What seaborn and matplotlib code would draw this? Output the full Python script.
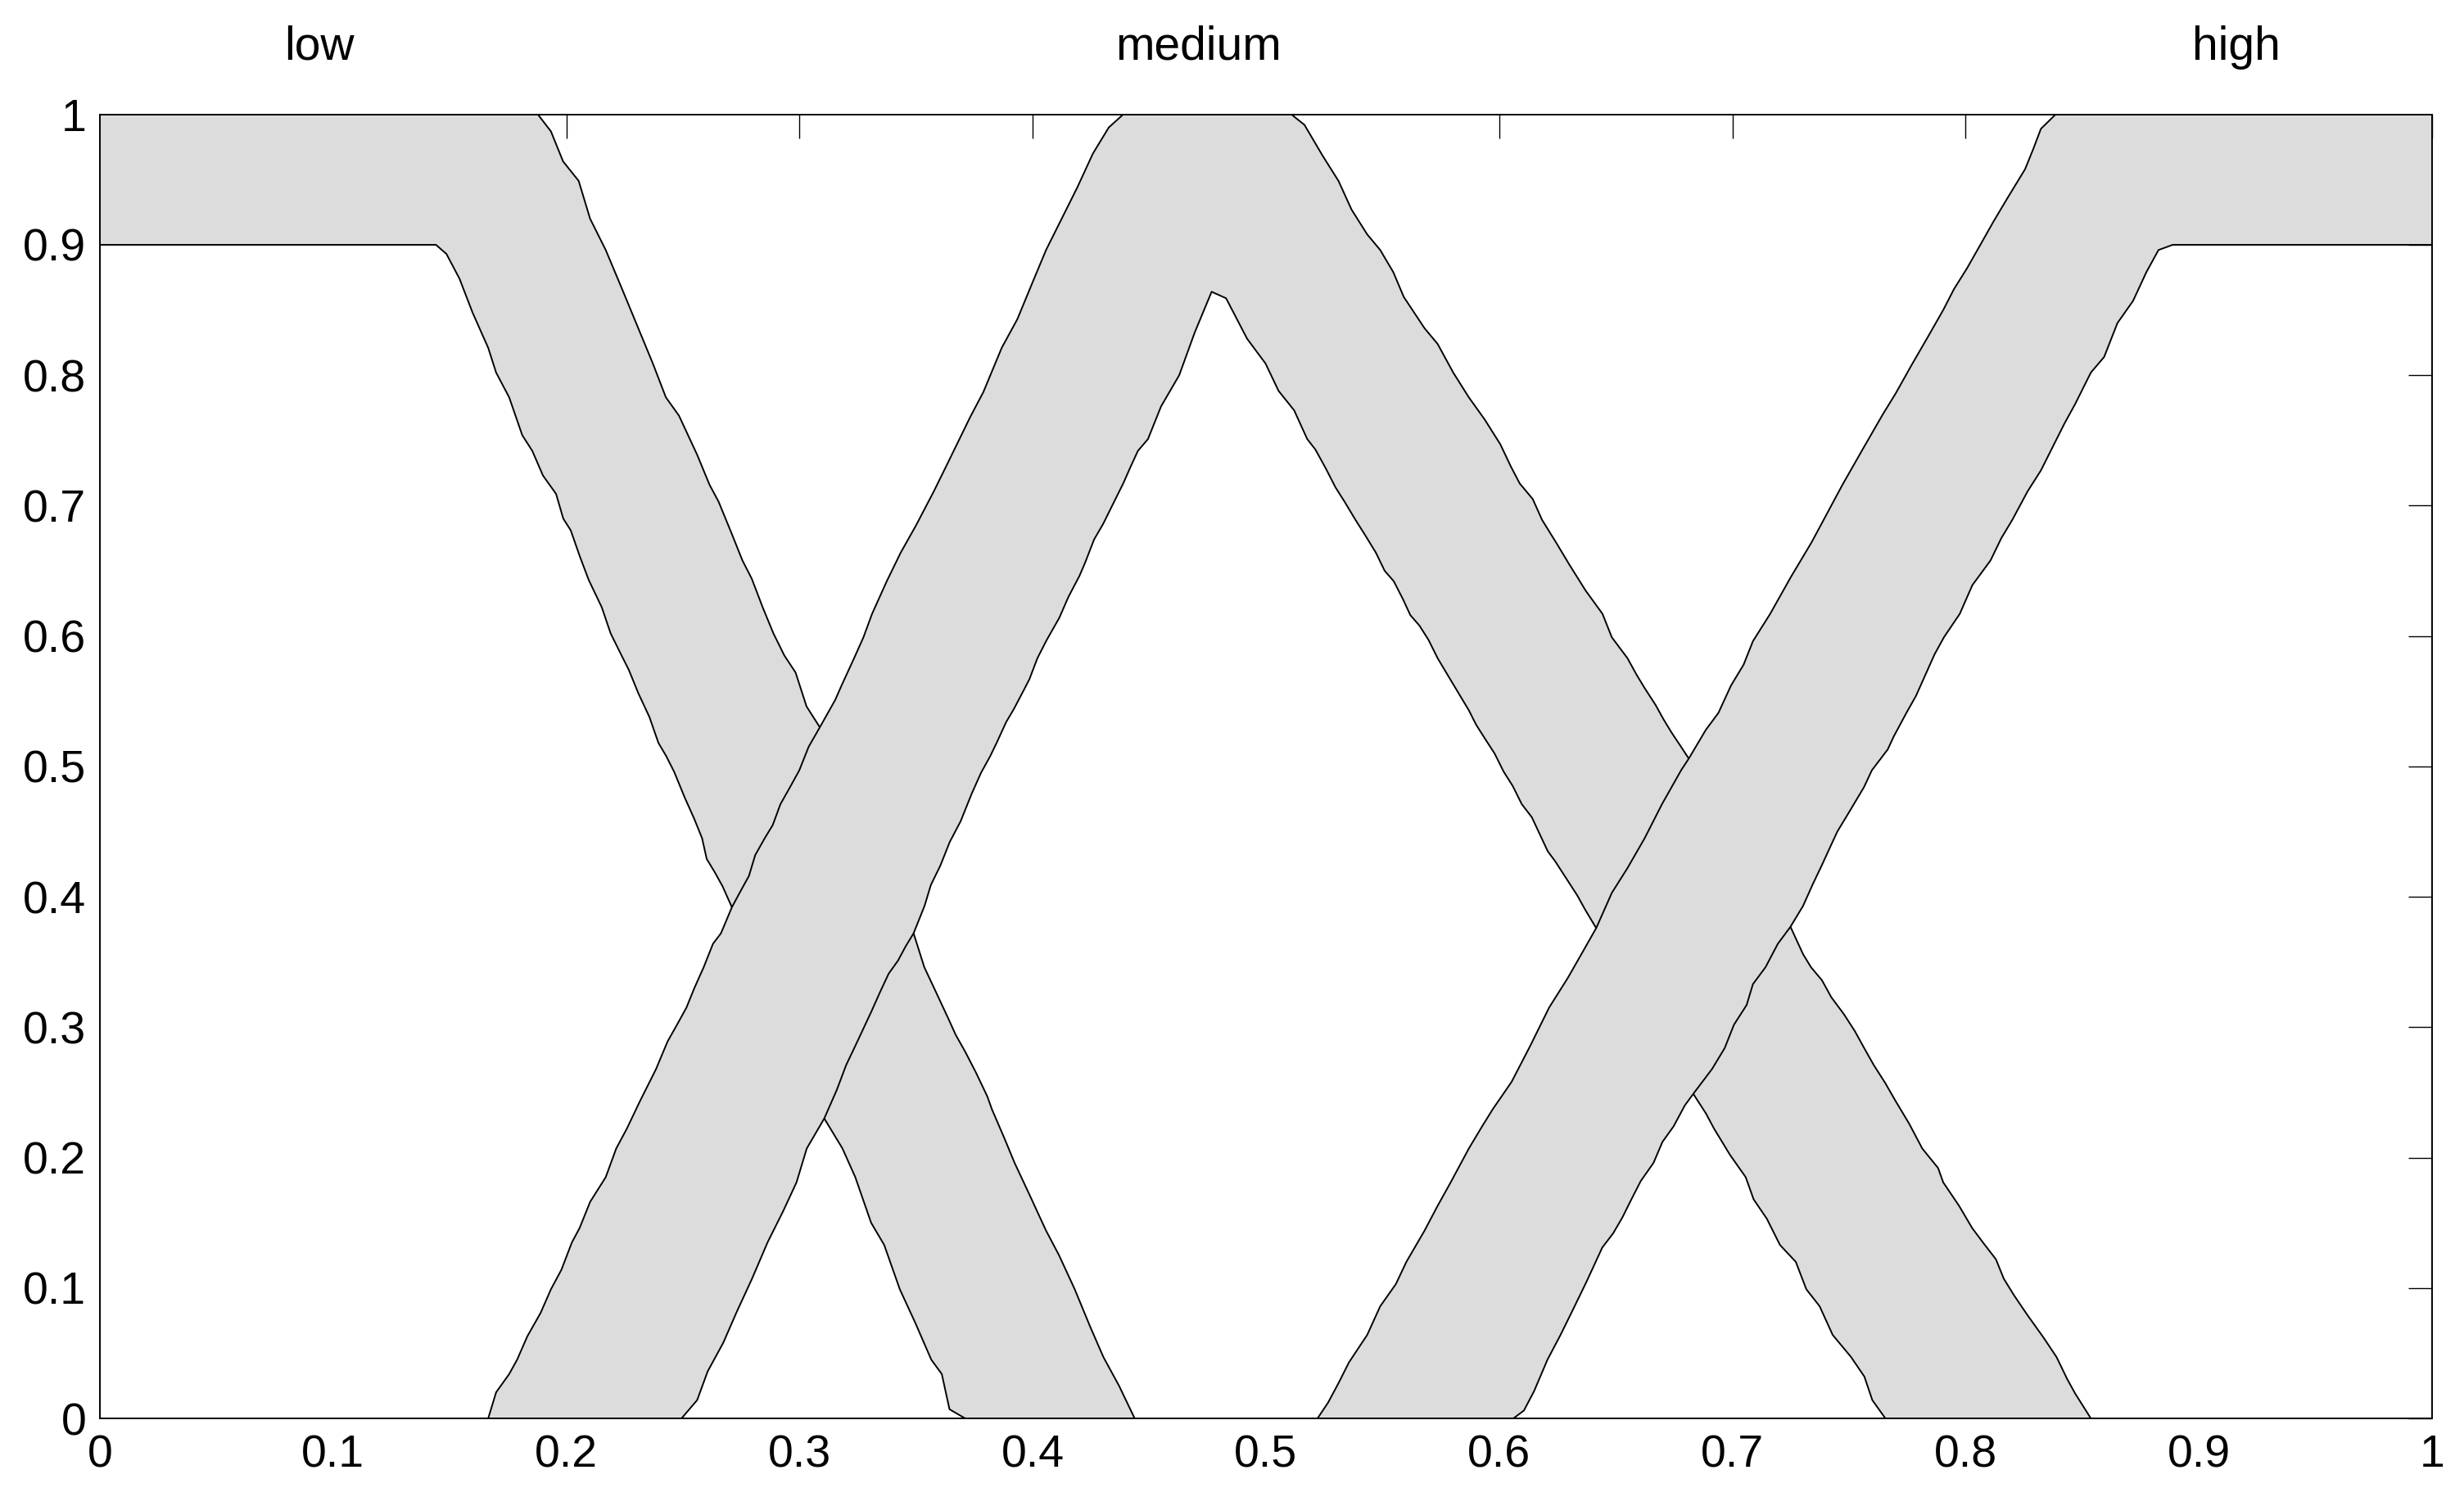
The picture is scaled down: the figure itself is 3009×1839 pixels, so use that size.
import pandas as pd
import matplotlib
matplotlib.use("Agg")
import matplotlib.pyplot as plt
import seaborn as sns

sns.set_theme(style="white")
plt.rcParams['font.family'] = ['Liberation Sans', 'DejaVu Sans']

# Labels of the three sets and where they sit (over the top of each set)
set_names = ['low', 'medium', 'high']
set_label_x = [0.094, 0.471, 0.916]

tick_values = [0, 0.1, 0.2, 0.3, 0.4, 0.5, 0.6, 0.7, 0.8, 0.9, 1]
tick_text = ['0', '0.1', '0.2', '0.3', '0.4', '0.5', '0.6', '0.7', '0.8', '0.9', '1']

# Upper and lower membership functions, (x, mu)
low_upper = [(0.0, 1.0), (0.1878, 1.0), (0.1934, 0.987), (0.1986, 0.964), (0.2053, 0.949), (0.2102, 0.920),
             (0.2169, 0.896), (0.2237, 0.867), (0.2304, 0.838), (0.2371, 0.809), (0.2427, 0.783), (0.2483, 0.769),
             (0.2561, 0.739), (0.2614, 0.716), (0.2653, 0.703), (0.2708, 0.679), (0.2755, 0.658), (0.2795, 0.644),
             (0.2842, 0.622), (0.2888, 0.602), (0.2935, 0.585), (0.2983, 0.572), (0.3030, 0.546), (0.3087, 0.530),
             (0.3200, 0.484), (0.3330, 0.434), (0.3489, 0.372), (0.3535, 0.346), (0.3577, 0.330), (0.3637, 0.307),
             (0.3670, 0.294), (0.3711, 0.281), (0.3757, 0.265), (0.3805, 0.247), (0.3825, 0.237), (0.3878, 0.215),
             (0.3922, 0.196), (0.3990, 0.170), (0.4057, 0.144), (0.4113, 0.125), (0.4180, 0.099), (0.4247, 0.070),
             (0.4303, 0.047), (0.4370, 0.025), (0.4437, 0.0), (1.0, 0.0)]
low_lower = [(0.0, 0.9), (0.1441, 0.9), (0.1486, 0.893), (0.1542, 0.874), (0.1598, 0.848), (0.1665, 0.821),
             (0.1699, 0.802), (0.1755, 0.783), (0.1811, 0.754), (0.1854, 0.742), (0.1900, 0.723), (0.1956, 0.709),
             (0.1987, 0.690), (0.2019, 0.681), (0.2058, 0.661), (0.2096, 0.643), (0.2152, 0.622), (0.2190, 0.602),
             (0.2237, 0.585), (0.2268, 0.574), (0.2309, 0.556), (0.2356, 0.538), (0.2395, 0.518), (0.2428, 0.508),
             (0.2462, 0.496), (0.2508, 0.476), (0.2548, 0.460), (0.2582, 0.445), (0.2602, 0.429), (0.2636, 0.419),
             (0.2670, 0.408), (0.2710, 0.392), (0.2900, 0.312), (0.3106, 0.230), (0.3184, 0.207), (0.3239, 0.185),
             (0.3307, 0.150), (0.3363, 0.133), (0.3430, 0.099), (0.3497, 0.073), (0.3565, 0.045), (0.3610, 0.034),
             (0.3643, 0.007), (0.3710, 0.0), (1.0, 0.0)]

medium_upper = [(0.0, 0.0), (0.1665, 0.0), (0.1699, 0.020), (0.1755, 0.034), (0.1789, 0.045), (0.1833, 0.063),
                (0.1890, 0.081), (0.1934, 0.099), (0.1979, 0.114), (0.2024, 0.135), (0.2057, 0.146), (0.2102, 0.166),
                (0.2169, 0.185), (0.2214, 0.207), (0.2259, 0.222), (0.2315, 0.243), (0.2385, 0.268), (0.2434, 0.289),
                (0.2475, 0.302), (0.2515, 0.315), (0.2549, 0.330), (0.2589, 0.346), (0.2629, 0.364), (0.2663, 0.372),
                (0.2710, 0.392), (0.2743, 0.403), (0.2783, 0.416), (0.2810, 0.432), (0.2851, 0.445), (0.2885, 0.455),
                (0.2918, 0.471), (0.2959, 0.484), (0.2999, 0.497), (0.3039, 0.515), (0.3087, 0.530), (0.3153, 0.551),
                (0.3180, 0.562), (0.3234, 0.583), (0.3274, 0.599), (0.3311, 0.617), (0.3374, 0.642), (0.3434, 0.664),
                (0.3500, 0.685), (0.3576, 0.711), (0.3642, 0.735), (0.3732, 0.768), (0.3788, 0.787), (0.3867, 0.821),
                (0.3934, 0.843), (0.4001, 0.872), (0.4057, 0.896), (0.4124, 0.920), (0.4191, 0.944), (0.4258, 0.970),
                (0.4326, 0.990), (0.4388, 1.0), (0.5109, 1.0), (0.5165, 0.992), (0.5244, 0.968), (0.5311, 0.949),
                (0.5367, 0.927), (0.5434, 0.908), (0.5490, 0.896), (0.5546, 0.879), (0.5591, 0.860), (0.5680, 0.836),
                (0.5736, 0.824), (0.5803, 0.802), (0.5870, 0.783), (0.5938, 0.766), (0.6005, 0.747), (0.6050, 0.730),
                (0.6088, 0.717), (0.6144, 0.705), (0.6184, 0.689), (0.6243, 0.672), (0.6300, 0.655), (0.6370, 0.635),
                (0.6443, 0.617), (0.6483, 0.599), (0.6550, 0.583), (0.6590, 0.570), (0.6624, 0.560), (0.6671, 0.547),
                (0.6705, 0.536), (0.6739, 0.526), (0.6780, 0.515), (0.6813, 0.506), (0.7030, 0.440), (0.7249, 0.377),
                (0.7303, 0.356), (0.7337, 0.346), (0.7384, 0.336), (0.7424, 0.323), (0.7478, 0.310), (0.7525, 0.297),
                (0.7565, 0.284), (0.7606, 0.271), (0.7656, 0.257), (0.7701, 0.243), (0.7758, 0.226), (0.7814, 0.207),
                (0.7882, 0.192), (0.7904, 0.181), (0.7972, 0.163), (0.8028, 0.146), (0.8074, 0.135), (0.8130, 0.122),
                (0.8164, 0.107), (0.8209, 0.094), (0.8266, 0.079), (0.8334, 0.062), (0.8390, 0.047), (0.8436, 0.030),
                (0.8470, 0.019), (0.8537, 0.0), (1.0, 0.0)]
medium_lower = [(0.0, 0.0), (0.2494, 0.0), (0.2561, 0.014), (0.2606, 0.036), (0.2673, 0.058), (0.2729, 0.081),
                (0.2796, 0.107), (0.2863, 0.135), (0.2930, 0.159), (0.2987, 0.181), (0.3031, 0.207), (0.3106, 0.230),
                (0.3160, 0.252), (0.3200, 0.271), (0.3240, 0.286), (0.3274, 0.299), (0.3308, 0.312), (0.3348, 0.328),
                (0.3382, 0.341), (0.3422, 0.351), (0.3455, 0.362), (0.3489, 0.372), (0.3536, 0.393), (0.3563, 0.409),
                (0.3604, 0.424), (0.3644, 0.442), (0.3691, 0.458), (0.3738, 0.479), (0.3778, 0.495), (0.3818, 0.508),
                (0.3845, 0.518), (0.3886, 0.534), (0.3919, 0.544), (0.3966, 0.560), (0.3986, 0.567), (0.4020, 0.583),
                (0.4060, 0.597), (0.4114, 0.614), (0.4153, 0.630), (0.4200, 0.646), (0.4224, 0.656), (0.4263, 0.674),
                (0.4302, 0.686), (0.4349, 0.703), (0.4388, 0.717), (0.4420, 0.730), (0.4451, 0.742), (0.4494, 0.751),
                (0.4550, 0.776), (0.4628, 0.800), (0.4695, 0.833), (0.4767, 0.864), (0.4829, 0.859), (0.4919, 0.828),
                (0.4998, 0.809), (0.5054, 0.788), (0.5121, 0.773), (0.5177, 0.751), (0.5212, 0.743), (0.5258, 0.728),
                (0.5298, 0.714), (0.5337, 0.703), (0.5384, 0.689), (0.5423, 0.678), (0.5471, 0.664), (0.5509, 0.650),
                (0.5548, 0.642), (0.5588, 0.628), (0.5619, 0.616), (0.5658, 0.608), (0.5697, 0.597), (0.5736, 0.583),
                (0.5776, 0.571), (0.5823, 0.557), (0.5870, 0.543), (0.5901, 0.532), (0.5940, 0.521), (0.5980, 0.510),
                (0.6019, 0.496), (0.6058, 0.485), (0.6097, 0.471), (0.6140, 0.461), (0.6174, 0.448), (0.6208, 0.435),
                (0.6241, 0.427), (0.6288, 0.414), (0.6335, 0.401), (0.6369, 0.390), (0.6416, 0.376), (0.6630, 0.311),
                (0.6839, 0.247), (0.6886, 0.234), (0.6922, 0.222), (0.6990, 0.202), (0.7057, 0.185), (0.7091, 0.168),
                (0.7148, 0.153), (0.7204, 0.133), (0.7272, 0.120), (0.7317, 0.099), (0.7374, 0.086), (0.7430, 0.064),
                (0.7509, 0.047), (0.7566, 0.032), (0.7600, 0.014), (0.7656, 0.0), (1.0, 0.0)]

high_upper = [(0.0, 0.0), (0.5221, 0.0), (0.5266, 0.012), (0.5311, 0.027), (0.5356, 0.043), (0.5434, 0.064),
              (0.5490, 0.086), (0.5557, 0.103), (0.5602, 0.120), (0.5680, 0.144), (0.5736, 0.163), (0.5792, 0.181),
              (0.5870, 0.207), (0.5927, 0.224), (0.5972, 0.237), (0.6053, 0.258), (0.6134, 0.286), (0.6214, 0.315),
              (0.6295, 0.338), (0.6362, 0.359), (0.6416, 0.376), (0.6483, 0.403), (0.6550, 0.422), (0.6624, 0.445),
              (0.6698, 0.471), (0.6780, 0.497), (0.6813, 0.506), (0.6886, 0.528), (0.6940, 0.541), (0.6994, 0.562),
              (0.7048, 0.578), (0.7088, 0.596), (0.7162, 0.617), (0.7250, 0.645), (0.7340, 0.672), (0.7400, 0.692),
              (0.7472, 0.716), (0.7558, 0.743), (0.7645, 0.770), (0.7700, 0.786), (0.7769, 0.808), (0.7837, 0.829),
              (0.7904, 0.850), (0.7950, 0.866), (0.8006, 0.882), (0.8060, 0.899), (0.8120, 0.918), (0.8180, 0.936),
              (0.8255, 0.958), (0.8289, 0.973), (0.8323, 0.989), (0.8386, 1.0), (1.0, 1.0)]
high_lower = [(0.0, 0.0), (0.6061, 0.0), (0.6106, 0.006), (0.6150, 0.021), (0.6207, 0.045), (0.6263, 0.064),
              (0.6318, 0.084), (0.6375, 0.105), (0.6442, 0.131), (0.6489, 0.142), (0.6528, 0.154), (0.6567, 0.168),
              (0.6607, 0.182), (0.6662, 0.196), (0.6700, 0.212), (0.6748, 0.224), (0.6796, 0.240), (0.6837, 0.250),
              (0.6913, 0.268), (0.6967, 0.284), (0.7007, 0.302), (0.7061, 0.317), (0.7088, 0.333), (0.7142, 0.346),
              (0.7195, 0.364), (0.7249, 0.377), (0.7303, 0.393), (0.7343, 0.409), (0.7383, 0.424), (0.7424, 0.440),
              (0.7450, 0.450), (0.7504, 0.466), (0.7564, 0.484), (0.7598, 0.497), (0.7666, 0.513), (0.7692, 0.523),
              (0.7746, 0.541), (0.7787, 0.554), (0.7827, 0.570), (0.7867, 0.586), (0.7907, 0.599), (0.7975, 0.617),
              (0.8029, 0.639), (0.8107, 0.658), (0.8153, 0.675), (0.8200, 0.689), (0.8266, 0.711), (0.8323, 0.727),
              (0.8379, 0.747), (0.8424, 0.763), (0.8470, 0.778), (0.8537, 0.802), (0.8594, 0.814), (0.8651, 0.840),
              (0.8718, 0.857), (0.8775, 0.879), (0.8827, 0.896), (0.8888, 0.9), (1.0, 0.9)]

fou_sets = [(low_upper, low_lower), (medium_upper, medium_lower), (high_upper, high_lower)]

fig = plt.figure(figsize=(30.09, 18.39), dpi=100)
ax = fig.add_axes([0.04054, 0.05818, 0.94649, 0.86585])
ax.set_axisbelow(True)

z = 1.0
for upper, lower in fou_sets:
    up = pd.DataFrame(upper, columns=['x', 'mu'])
    lo = pd.DataFrame(lower, columns=['x', 'mu'])
    # footprint of uncertainty, later sets are drawn over earlier ones
    band = pd.concat([up, lo.iloc[::-1]], ignore_index=True)
    ax.fill(band['x'], band['mu'], facecolor='#dcdcdc', edgecolor='none', zorder=z)
    for df in (up, lo):
        sns.lineplot(data=df, x='x', y='mu', sort=False, estimator=None, color='black',
                     linewidth=1.4, ax=ax, zorder=z + 0.05)
    z += 0.1

for name, xpos in zip(set_names, set_label_x):
    ax.text(xpos, 1.042, name, ha='center', va='baseline', fontsize=41, color='black')

ax.set_xlim(0, 1)
ax.set_ylim(0, 1)
ax.set_xticks(tick_values)
ax.set_xticklabels(tick_text)
ax.set_yticks(tick_values)
ax.set_yticklabels(tick_text)
ax.set_xlabel('')
ax.set_ylabel('')
ax.tick_params(direction='in', length=21, width=1.0, top=True, right=True,
               labelsize=40, colors='black')
ax.tick_params(axis='y', pad=12)
ax.tick_params(axis='x', pad=14)
for spine in ax.spines.values():
    spine.set_color('black')
    spine.set_linewidth(1.4)

fig.savefig('out.png', dpi=100, facecolor='white')
